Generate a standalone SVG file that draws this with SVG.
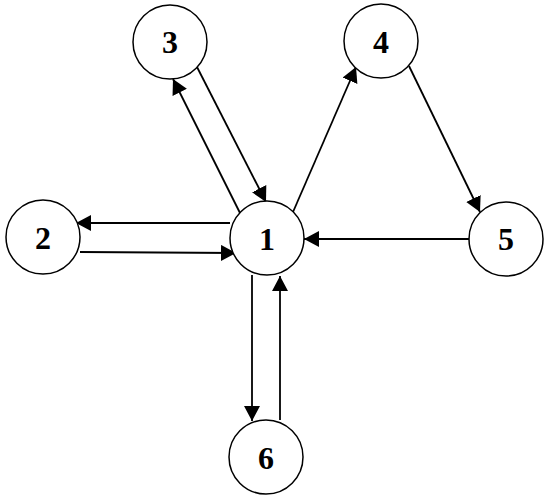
<svg xmlns="http://www.w3.org/2000/svg" width="550" height="500" viewBox="0 0 550 500">
<style>
.node circle{fill:#fff;stroke:#000;stroke-width:1.5}
.node text{font-family:'Liberation Serif','Times New Roman',Times,serif;font-weight:bold;font-size:32px;text-anchor:middle;fill:#000}
.edges line{stroke:#000;stroke-width:1.8;marker-end:url(#arr)}
</style>
<defs>
<marker id="arr" markerUnits="userSpaceOnUse" markerWidth="15" markerHeight="16" viewBox="0 0 15 16" refX="15" refY="8" orient="auto">
<path d="M0,0 L15,8 L0,16 z" fill="#000"/>
</marker>
</defs>
<g class="edges" id="connectors">
<line x1="240" y1="213" x2="173" y2="79"/>
<line x1="197" y1="67" x2="266" y2="202"/>
<line x1="293" y1="212" x2="356" y2="67"/>
<line x1="409" y1="66" x2="480" y2="212"/>
<line x1="469" y1="239" x2="304" y2="239"/>
<line x1="230" y1="223" x2="76" y2="223"/>
<line x1="80" y1="252" x2="236" y2="253"/>
<line x1="252" y1="275" x2="252" y2="421"/>
<line x1="280" y1="420" x2="280" y2="276"/>
</g>
<g class="node" id="node1"><circle cx="267" cy="238" r="37"/><text x="267" y="250">1</text></g>
<g class="node" id="node2"><circle cx="43" cy="237" r="37"/><text x="43" y="249">2</text></g>
<g class="node" id="node3"><circle cx="170" cy="42" r="37"/><text x="170" y="53">3</text></g>
<g class="node" id="node4"><circle cx="381" cy="41" r="37"/><text x="381" y="53">4</text></g>
<g class="node" id="node5"><circle cx="506" cy="239" r="37"/><text x="506" y="250">5</text></g>
<g class="node" id="node6"><circle cx="266" cy="457" r="37"/><text x="266" y="469">6</text></g>
</svg>
